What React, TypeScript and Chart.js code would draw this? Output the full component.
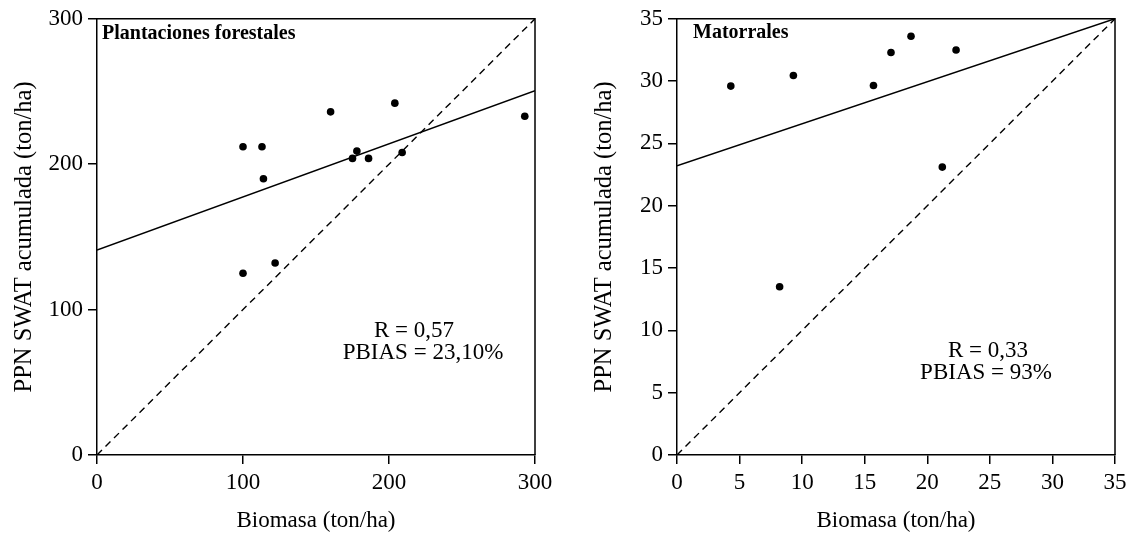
import React, { useEffect, useRef } from "react";
import { Chart, registerables } from "chart.js";
Chart.register(...registerables);

// ---- Data: Plantaciones forestales ----
const plantX = [100, 113, 114, 160, 204, 293, 178, 175, 186, 209, 122, 100];
const plantY = [212, 212, 190, 236, 242, 233, 209, 204, 204, 208, 132, 125];
const plantFitX = [0, 300];
const plantFitY = [141, 250.5];
const plantDiag = [0, 300];
const plantTicks = [0, 100, 200, 300];

// ---- Data: Matorrales ----
const matX = [4.3, 9.3, 15.7, 17.1, 18.7, 22.3, 21.2, 8.2];
const matY = [29.6, 30.45, 29.65, 32.3, 33.6, 32.5, 23.1, 13.5];
const matFitX = [0, 35];
const matFitY = [23.2, 35];
const matDiag = [0, 35];
const matTicks = [0, 5, 10, 15, 20, 25, 30, 35];

const FONT = "'Liberation Serif', 'Times New Roman', serif";

type Panel = {
  xs: number[];
  ys: number[];
  fitX: number[];
  fitY: number[];
  diag: number[];
  ticks: number[];
  title: string;
  titlePos: [number, number];
  stats: { text: string; x: number; y: number }[];
  padRight: number;
};

const panels: Panel[] = [
  {
    xs: plantX,
    ys: plantY,
    fitX: plantFitX,
    fitY: plantFitY,
    diag: plantDiag,
    ticks: plantTicks,
    title: "Plantaciones forestales",
    titlePos: [102, 39],
    stats: [
      { text: "R = 0,57", x: 414, y: 337 },
      { text: "PBIAS = 23,10%", x: 423, y: 359 },
    ],
    padRight: 25,
  },
  {
    xs: matX,
    ys: matY,
    fitX: matFitX,
    fitY: matFitY,
    diag: matDiag,
    ticks: matTicks,
    title: "Matorrales",
    titlePos: [113, 38],
    stats: [
      { text: "R = 0,33", x: 408, y: 357 },
      { text: "PBIAS = 93%", x: 406, y: 379 },
    ],
    padRight: 24,
  },
];

function PanelChart({ p, left, width }: { p: Panel; left: number; width: number }) {
  const ref = useRef<HTMLCanvasElement | null>(null);
  useEffect(() => {
    if (!ref.current) return;
    const min = p.ticks[0];
    const max = p.ticks[p.ticks.length - 1];
    const step = p.ticks[1] - p.ticks[0];
    const deco = {
      id: "deco",
      afterDraw(chart: any) {
        const { ctx, chartArea } = chart;
        ctx.save();
        ctx.strokeStyle = "#000";
        ctx.lineWidth = 1.5;
        ctx.beginPath();
        ctx.moveTo(chartArea.left, chartArea.top);
        ctx.lineTo(chartArea.right, chartArea.top);
        ctx.lineTo(chartArea.right, chartArea.bottom);
        ctx.stroke();
        ctx.fillStyle = "#000";
        ctx.textBaseline = "alphabetic";
        ctx.textAlign = "left";
        ctx.font = `bold 20px ${FONT}`;
        ctx.fillText(p.title, p.titlePos[0], p.titlePos[1]);
        ctx.font = `23px ${FONT}`;
        ctx.textAlign = "center";
        p.stats.forEach((s) => ctx.fillText(s.text, s.x, s.y));
        ctx.restore();
      },
    };
    const axisCommon = {
      type: "linear" as const,
      min,
      max,
      ticks: {
        stepSize: step,
        color: "#000",
        font: { family: FONT, size: 23 },
        maxRotation: 0,
        autoSkip: false,
        padding: 5,
      },
      grid: {
        drawOnChartArea: false,
        drawTicks: true,
        tickLength: 9,
        color: "#000",
        lineWidth: 1.5,
      },
      border: { display: true, color: "#000", width: 1.5 },
    };
    const chart = new Chart(ref.current, {
      type: "scatter",
      data: {
        datasets: [
          {
            data: p.xs.map((x, i) => ({ x, y: p.ys[i] })),
            backgroundColor: "#000",
            borderColor: "#000",
            pointRadius: 3.8,
            pointBorderWidth: 0,
          },
          {
            data: p.fitX.map((x, i) => ({ x, y: p.fitY[i] })),
            showLine: true,
            borderColor: "#000",
            borderWidth: 1.5,
            pointRadius: 0,
          },
          {
            data: p.diag.map((v) => ({ x: v, y: v })),
            showLine: true,
            borderColor: "#000",
            borderWidth: 1.4,
            borderDash: [7, 5],
            pointRadius: 0,
          },
        ],
      },
      options: {
        animation: false,
        responsive: false,
        maintainAspectRatio: false,
        layout: { padding: { left: 0, top: 18, right: p.padRight, bottom: 0 } },
        plugins: { legend: { display: false }, tooltip: { enabled: false } },
        scales: {
          x: {
            ...axisCommon,
            position: "bottom",
            afterFit: (s: any) => {
              s.height = 83;
            },
            title: {
              display: true,
              text: "Biomasa (ton/ha)",
              color: "#000",
              font: { family: FONT, size: 23 },
              padding: { top: 0, bottom: 3 },
            },
          },
          y: {
            ...axisCommon,
            position: "left",
            afterFit: (s: any) => {
              s.width = 97;
            },
            title: {
              display: true,
              text: "PPN SWAT acumulada (ton/ha)",
              color: "#000",
              font: { family: FONT, size: 24.5 },
              padding: { top: 10, bottom: 0 },
            },
          },
        },
      },
      plugins: [deco],
    } as any);
    return () => chart.destroy();
  }, [p]);
  return (
    <canvas
      ref={ref}
      width={width}
      height={538}
      style={{ position: "absolute", left, top: 0, width, height: 538 }}
    />
  );
}

export default function App() {
  return (
    <div style={{ position: "fixed", left: 0, top: 0, width: 1139, height: 538, background: "#fff" }}>
      <PanelChart p={panels[0]} left={0} width={560} />
      <PanelChart p={panels[1]} left={580} width={559} />
    </div>
  );
}
